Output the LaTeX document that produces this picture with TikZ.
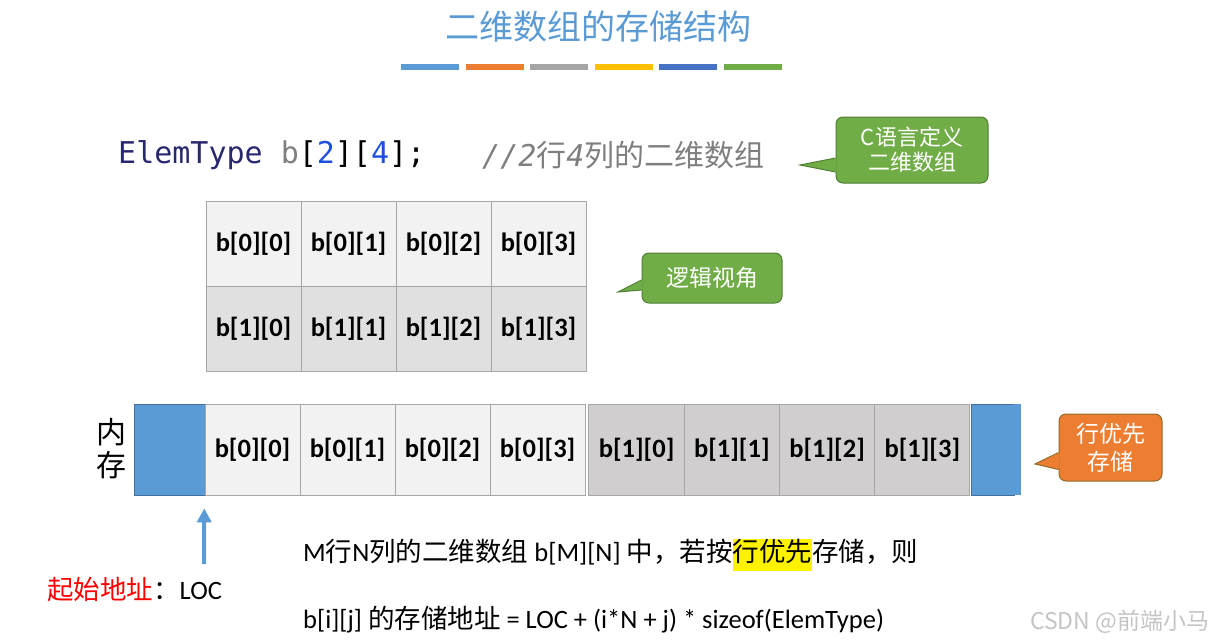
\documentclass[tikz,border=0pt]{standalone}
\usepackage{fontspec}
\setmainfont{Carlito}
\newfontfamily\cjk{Noto Sans CJK SC}
\newfontfamily\codefont{DejaVu Sans Mono}
\usetikzlibrary{arrows.meta}

\definecolor{titleblue}{HTML}{5B9BD5}
\definecolor{barorange}{HTML}{ED7D31}
\definecolor{bargray}{HTML}{A5A5A5}
\definecolor{baryellow}{HTML}{FFC000}
\definecolor{bardblue}{HTML}{4472C4}
\definecolor{bargreen}{HTML}{70AD47}
\definecolor{cellline}{HTML}{A6A6A6}
\definecolor{celllight}{HTML}{F2F2F2}
\definecolor{cellmid}{HTML}{E0E0E0}
\definecolor{celldark}{HTML}{D0CECE}
\definecolor{memline}{HTML}{41719C}
\definecolor{bubbleline}{HTML}{507E32}
\definecolor{bubbleoline}{HTML}{8F6B2A}
\definecolor{codenavy}{HTML}{28286F}
\definecolor{codegray}{HTML}{7F7F7F}
\definecolor{codeblue}{HTML}{1F4FDD}
\definecolor{markgray}{HTML}{C4C4C4}

\begin{document}
\begin{tikzpicture}[x=1pt,y=-1pt,
    cell/.style={draw=cellline,line width=1pt,minimum width=95pt,minimum height=85pt,
      inner sep=0pt,font=\bfseries\fontsize{26.5}{31}\selectfont},
    memcell/.style={cell,minimum height=91pt},
    memblock/.style={fill=titleblue,draw=memline,line width=0.6pt,minimum height=91pt,inner sep=0pt},
    bubble/.style={rounded corners=7pt,line width=1pt,text=white,align=center,inner sep=0pt},
    plain/.style={anchor=west,inner sep=0pt,font=\fontsize{26.5}{31}\selectfont},
    locarrow/.style={draw=titleblue,line width=4pt,-{Triangle[length=14pt,width=14pt]}}]
  \useasboundingbox (0,0) rectangle (1216,642);

  % title and colour bars
  \node[text=titleblue,font=\cjk\fontsize{34}{40}\selectfont] (title) at (598,27) {二维数组的存储结构};
  \foreach \c [count=\i from 0] in {titleblue,barorange,bargray,baryellow,bardblue,bargreen} {
      \fill[\c] (401+64.6*\i,64) rectangle ++(58,6);
    }

  % declaration
  \node[plain,font=\codefont\fontsize{30}{34}\selectfont] (decl) at (118,155)
    {\textcolor{codenavy}{ElemType} \textcolor{codegray}{b}[\textcolor{codeblue}{2}][\textcolor{codeblue}{4}];};
  \node[plain,text=codegray,font=\codefont\fontsize{30}{34}\selectfont] (declnote) at (482,155)
    {\itshape //2{\upshape\cjk 行}4{\upshape\cjk 列的二维数组}};

  % logical view
  \foreach \r/\f in {0/celllight,1/cellmid} {
      \foreach \c in {0,...,3} {
          \node[cell,fill=\f] (l\r\c) at (253.5+95*\c,244+85*\r) {b[\r][\c]};
        }
    }

  % memory
  \node[font=\cjk\fontsize{30}{33}\selectfont,align=center,inner sep=0pt] (memlabel) at (111,449) {内\\存};
  \node[memblock,minimum width=71pt] (memstart) at (169.5,449.5) {};
  \foreach \c in {0,...,3} {
      \node[memcell,fill=celllight] (m0\c) at (252.5+95*\c,449.5) {b[0][\c]};
      \node[memcell,fill=celldark,minimum width=95.25pt] (m1\c) at (636.6+95.25*\c,449.5) {b[1][\c]};
    }
  \node[memblock,minimum width=43pt] (memend) at (992.5,449.5) {};
  \fill[titleblue] (memend.north east) rectangle ++(7,91);

  % callouts
  \node[bubble,fill=bargreen,draw=bubbleline,minimum width=152pt,minimum height=66pt,
    font=\cjk\fontsize{22}{25}\selectfont] (cdecl) at (912,150) {C语言定义\\二维数组};
  \coordinate (cdecltip) at (800,165);
  \fill[bargreen] ([xshift=1.2pt,yshift=-8pt]cdecl.west) -- (cdecltip) -- ([xshift=1.2pt,yshift=-22pt]cdecl.west) -- cycle;
  \draw[bubbleline,line width=1pt] ([yshift=-8pt]cdecl.west) -- (cdecltip) -- ([yshift=-22pt]cdecl.west);

  \node[bubble,fill=bargreen,draw=bubbleline,minimum width=140pt,minimum height=50pt,
    font=\cjk\fontsize{23}{27}\selectfont] (logicview) at (712,278) {逻辑视角};
  \coordinate (logictip) at (618,292);
  \fill[bargreen] ([xshift=1.2pt,yshift=-2pt]logicview.west) -- (logictip) -- ([xshift=1.2pt,yshift=-12pt]logicview.west) -- cycle;
  \draw[bubbleline,line width=1pt] ([yshift=-2pt]logicview.west) -- (logictip) -- ([yshift=-12pt]logicview.west);

  \node[bubble,fill=barorange,draw=bubbleoline,minimum width=103pt,minimum height=67pt,
    font=\cjk\fontsize{23}{28}\selectfont] (rowmajor) at (1110.5,447.5) {行优先\\存储};
  \coordinate (rowtip) at (1035,464);
  \fill[barorange] ([xshift=1.2pt,yshift=-5pt]rowmajor.west) -- (rowtip) -- ([xshift=1.2pt,yshift=-22pt]rowmajor.west) -- cycle;
  \draw[bubbleoline,line width=1pt] ([yshift=-5pt]rowmajor.west) -- (rowtip) -- ([yshift=-22pt]rowmajor.west);

  % start address
  \coordinate (locbase) at (204,564);
  \draw[locarrow] (locbase) -- ([xshift=-1pt,yshift=-13pt]memstart.south east);
  \node[plain] (loc) at (47,590) {\textcolor{red}{\cjk 起始地址}{\cjk ：}LOC};

  % formula
  \node[plain] (rule) at (303,555)
    {M{\cjk 行}N{\cjk 列的二维数组} b[M][N] {\cjk 中，若按}{\setlength{\fboxsep}{0pt}\colorbox{yellow}{\strut\cjk 行优先}}{\cjk 存储，则}};
  \node[plain] (addr) at (303,620)
    {b[i][j] {\cjk 的存储地址} = LOC + (i*N + j) * sizeof(ElemType)};

  \node[plain,text=markgray,font=\cjk\fontsize{23}{27}\selectfont] (mark) at (1030,622) {CSDN @前端小马};
\end{tikzpicture}
\end{document}
